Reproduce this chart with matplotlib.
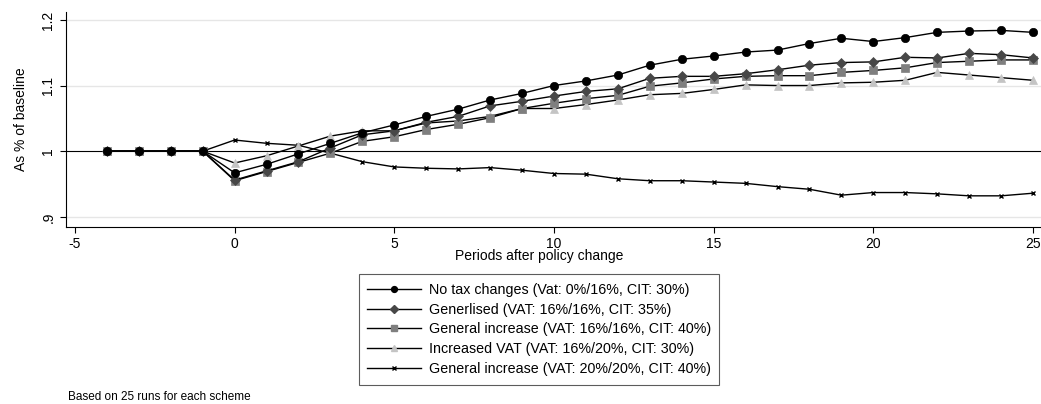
import matplotlib
matplotlib.use("Agg")
import matplotlib.pyplot as plt
from matplotlib.lines import Line2D

plt.rcParams['font.family'] = ['Liberation Sans', 'DejaVu Sans']

periods = list(range(-4, 26))

no_tax = [1, 1, 1, 1, 0.967, 0.980, 0.996, 1.012, 1.028, 1.040, 1.053, 1.064, 1.078, 1.088,
          1.100, 1.107, 1.116, 1.131, 1.140, 1.145, 1.151, 1.154, 1.164, 1.172, 1.167,
          1.173, 1.181, 1.183, 1.184, 1.181]
generalised = [1, 1, 1, 1, 0.956, 0.970, 0.984, 1.005, 1.025, 1.031, 1.044, 1.053, 1.069, 1.076,
               1.084, 1.091, 1.095, 1.111, 1.114, 1.114, 1.118, 1.124, 1.131, 1.135, 1.136,
               1.143, 1.142, 1.149, 1.147, 1.142]
gen_increase = [1, 1, 1, 1, 0.955, 0.969, 0.983, 0.997, 1.015, 1.022, 1.033, 1.041, 1.051, 1.065,
                1.073, 1.080, 1.085, 1.099, 1.104, 1.110, 1.114, 1.115, 1.115, 1.120, 1.123,
                1.127, 1.135, 1.137, 1.139, 1.139]
inc_vat = [1, 1, 1, 1, 0.982, 0.993, 1.008, 1.023, 1.031, 1.031, 1.043, 1.046, 1.053, 1.065,
           1.065, 1.071, 1.078, 1.086, 1.088, 1.094, 1.101, 1.100, 1.100, 1.104, 1.105,
           1.108, 1.120, 1.116, 1.112, 1.108]
gen_increase20 = [1, 1, 1, 1, 1.017, 1.012, 1.009, 0.997, 0.984, 0.976, 0.974, 0.973, 0.975, 0.971,
                  0.966, 0.965, 0.958, 0.955, 0.955, 0.953, 0.951, 0.946, 0.942, 0.933, 0.937,
                  0.937, 0.935, 0.932, 0.932, 0.936]

labels = ["No tax changes (Vat: 0%/16%, CIT: 30%)",
          "Generlised (VAT: 16%/16%, CIT: 35%)",
          "General increase (VAT: 16%/16%, CIT: 40%)",
          "Increased VAT (VAT: 16%/20%, CIT: 30%)",
          "General increase (VAT: 20%/20%, CIT: 40%)"]

series = [no_tax, generalised, gen_increase, inc_vat, gen_increase20]
markers = ['o', 'D', 's', '^', 'x']
mcolors = ['#000000', '#474747', '#7f7f7f', '#c4c4c4', '#000000']
msizes = [6, 5.5, 5.5, 6, 3.5]

fig = plt.figure(figsize=(10.41, 4.04), dpi=100)
ax = fig.add_axes([0.0631, 0.4389, 0.9369, 0.5314])

ax.set_xlim(-5.29, 25.25)
ax.set_ylim(0.885, 1.212)

for yv in [0.9, 1.1, 1.2]:
    ax.axhline(yv, color='#e6e6e6', lw=1.0, zorder=0)
ax.axhline(1.0, color='#000000', lw=0.8, zorder=1)

order = [4, 3, 2, 1, 0]
for i in order:
    ax.plot(periods, series[i], color='black', lw=1.0, marker=markers[i],
            markersize=msizes[i], markerfacecolor=mcolors[i], markeredgecolor=mcolors[i],
            markeredgewidth=1.0 if markers[i] == 'x' else 0.5, zorder=2 + (5 - i))

ax.spines['top'].set_visible(False)
ax.spines['right'].set_visible(False)
ax.spines['left'].set_linewidth(0.8)
ax.spines['bottom'].set_linewidth(0.8)

ax.set_xticks([-5, 0, 5, 10, 15, 20, 25])
ax.set_xticklabels(['-5', '0', '5', '10', '15', '20', '25'], fontsize=10)
ax.set_yticks([0.9, 1.0, 1.1, 1.2])
ax.set_yticklabels(['.9', '1', '1.1', '1.2'], fontsize=10, rotation=90, va='center')
ax.tick_params(axis='both', length=4, width=0.8, color='black')

ax.set_xlabel('Periods after policy change', fontsize=10)
ax.xaxis.set_label_coords(0.485, -0.105)
ax.set_ylabel('As % of baseline', fontsize=10)
ax.yaxis.set_label_coords(-0.039, 0.5)

handles = [Line2D([0], [0], color='black', lw=1.0, marker=markers[i], markersize=msizes[i] * 0.7,
                  markerfacecolor=mcolors[i], markeredgecolor=mcolors[i]) for i in range(5)]
leg = fig.legend(handles, labels, loc='center', bbox_to_anchor=(539 / 1041, 1 - 329.5 / 404),
                 fontsize=10.3, frameon=True, fancybox=False, edgecolor='#333333',
                 handlelength=3.75, labelspacing=0.41, borderpad=0.6, handletextpad=0.55,
                 borderaxespad=0)
leg.get_frame().set_linewidth(0.8)

fig.text(68 / 1041, 1 - 397 / 404, 'Based on 25 runs for each scheme', fontsize=8.5, va='center', ha='left')

fig.savefig('out.png', dpi=100)
